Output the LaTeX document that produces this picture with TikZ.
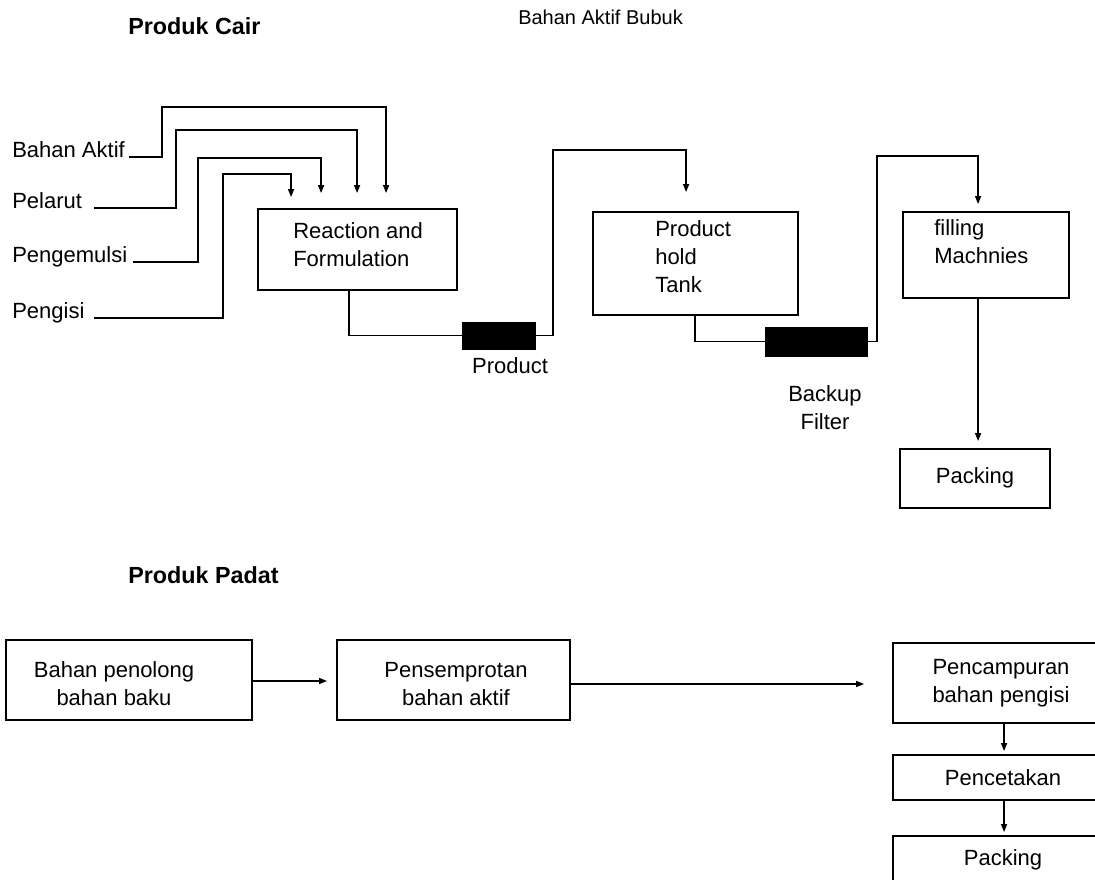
\documentclass[tikz,border=0pt]{standalone}
\usepackage{fontspec}
\setmainfont{Liberation Sans}
\usetikzlibrary{fit,calc,arrows.meta}
\begin{document}
\begin{tikzpicture}[x=0.75pt,y=-0.75pt,
  box/.style={draw, line width=1.4pt, inner sep=0pt},
  filt/.style={fill=black, draw=black, inner sep=0pt},
  lbl/.style={inner sep=0pt, font=\fontsize{16.5}{21}\selectfont},
  ttl/.style={inner sep=0pt, font=\bfseries\fontsize{17.5}{21}\selectfont},
  flow/.style={line width=1.1pt, -{Triangle[length=6pt,width=4.5pt]}},
  pipe/.style={line width=1.1pt},
]
\useasboundingbox (0,0) rectangle (1095,880);

% titles
\node[ttl, anchor=base west] (t1) at (128,35) {Produk Cair};
\node[lbl, anchor=base west, font=\fontsize{15}{18}\selectfont] (t2) at (518,25) {Bahan Aktif Bubuk};
\node[ttl, anchor=base west] (t3) at (128,583) {Produk Padat};

% inputs
\node[lbl, anchor=base west] (lba) at (12,158) {Bahan Aktif};
\node[lbl, anchor=base west] (lpl) at (12,209) {Pelarut};
\node[lbl, anchor=base west] (lpe) at (12,263) {Pengemulsi};
\node[lbl, anchor=base west] (lpg) at (12,319) {Pengisi};

% liquid line boxes
\node[box, fit={(258,209)(457,290)}] (rf) {};
\node[lbl, anchor=west, align=left] (rft) at (293,245) {Reaction and\\Formulation};
\node[box, fit={(593,212)(798,315)}] (tank) {};
\node[lbl, anchor=west, align=left] (tankt) at (655,257) {Product\\hold\\Tank};
\node[box, fit={(903,212)(1069,298)}] (fill) {};
\node[lbl, anchor=west, align=left] (fillt) at (934,242) {filling\\Machnies};
\node[box, fit={(900,449)(1050,508)}] (pk1) {};
\node[lbl] (pk1t) at (975,478) {Packing};

\node[filt, fit={(462,322)(535,349)}] (f1) {};
\node[filt, fit={(765,327)(867,356)}] (f2) {};
\node[lbl] (f1t) at (510,366) {Product};
\node[lbl, align=center] (f2t) at (825,408) {Backup\\Filter};

% connectors liquid
\draw[flow] ($(lba.base east)+(4,-1)$) -| (162,107) -| ($(rf.north west)+(129,-15)$);
\draw[flow] ($(lpl.base east)+(12,-1)$) -| (176,130) -| ($(rf.north west)+(100,-15)$);
\draw[flow] ($(lpe.base east)+(6,-1)$) -| (198,158) -| ($(rf.north west)+(64,-15)$);
\draw[flow] ($(lpg.base east)+(9,-1)$) -| (223,174) -| ($(rf.north west)+(34,-11)$);

\draw[pipe] ($(rf.south west)+(92,0)$) |- (f1.west);
\draw[flow] (f1.east) -| (553,150) -| ($(tank.north west)+(94,-19)$);
\draw[pipe] ($(tank.south west)+(103,0)$) |- (f2.west);
\draw[flow] (f2.east) -| (877,156) -| ($(fill.north west)+(76,-7)$);
\draw[flow] ($(fill.south west)+(76,0)$) -- ($(pk1.north west)+(79,-7)$);

% solid line
\node[box, fit={(6,640)(252,720)}] (b1) {};
\node[lbl, align=center] (b1t) at (114,684) {Bahan penolong\\bahan baku};
\node[box, fit={(337,640)(570,720)}] (b2) {};
\node[lbl, align=center] (b2t) at (456,684) {Pensemprotan\\bahan aktif};
\node[box, fit={(893,643)(1100,723)}] (b3) {};
\node[lbl, align=center] (b3t) at (1001,683) {Pencampuran\\bahan pengisi};
\node[box, fit={(893,755)(1100,800)}] (b4) {};
\node[lbl] (b4t) at (1003,778) {Pencetakan};
\node[box, fit={(893,836)(1100,895)}] (b5) {};
\node[lbl] (b5t) at (1003,860) {Packing};

\draw[flow] ($(b1.east)+(0,1)$) -- ($(b2.west)+(-9,1)$);
\draw[flow] ($(b2.east)+(0,4)$) -- ($(b3.west)+(-28,1)$);
\draw[flow] ($(b3.south west)+(112,0)$) -- ($(b4.north west)+(112,-3)$);
\draw[flow] ($(b4.south west)+(112,0)$) -- ($(b5.north west)+(112,-3)$);
\end{tikzpicture}
\end{document}
